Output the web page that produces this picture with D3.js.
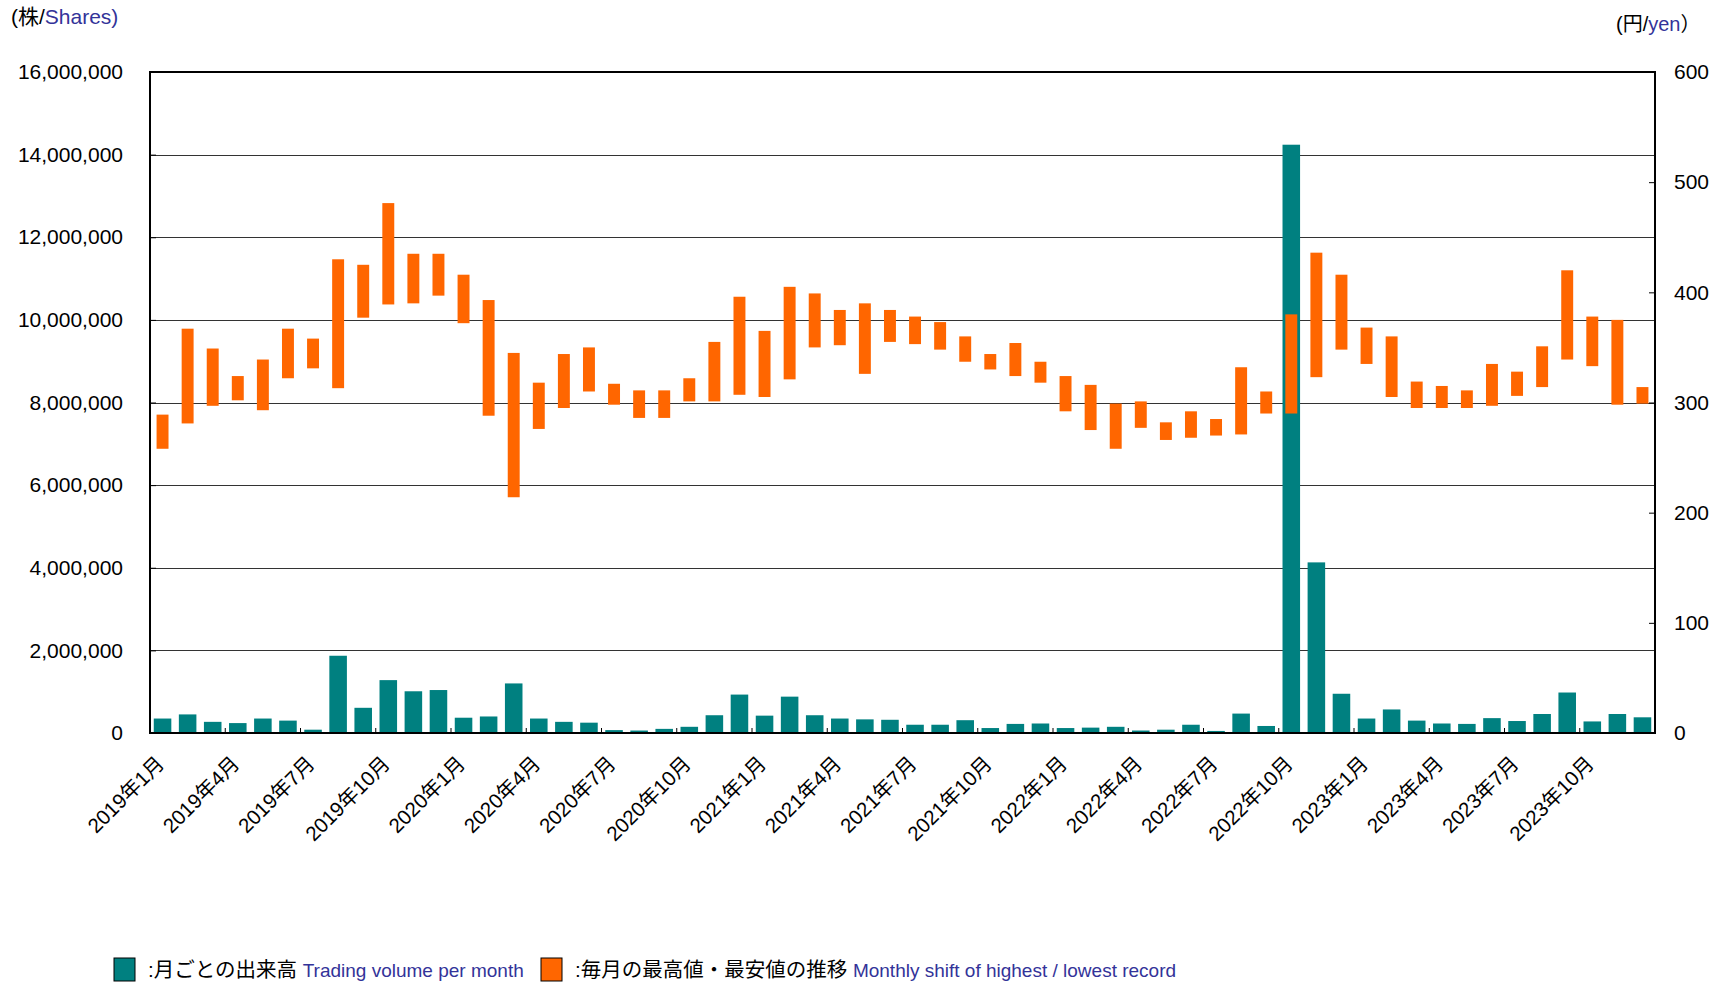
<!DOCTYPE html>
<html>
<head>
<meta charset="utf-8">
<script src="https://cdn.jsdelivr.net/npm/d3@7"></script>
<style>
  body { margin: 0; background: #fff; }
  svg { display: block; }
  text { font-family: "Liberation Sans", Arial, "Noto Sans CJK JP", sans-serif; }
</style>
</head>
<body>
<div id="chart"></div>
<script>
// months 2019/1 .. 2023/12
const years = [2019, 2020, 2021, 2022, 2023];
const months = [];
years.forEach(y => { for (let m = 1; m <= 12; m++) months.push(`${y}年${m}月`); });

// tick labels every 3 months
const tickLabels = ['2019年1月','2019年4月','2019年7月','2019年10月','2020年1月','2020年4月','2020年7月','2020年10月',
  '2021年1月','2021年4月','2021年7月','2021年10月','2022年1月','2022年4月','2022年7月','2022年10月',
  '2023年1月','2023年4月','2023年7月','2023年10月'];

// trading volume (shares)
const volume = [
  350000, 450000, 270000, 240000, 350000, 300000, 80000, 1870000, 610000, 1280000, 1010000, 1040000,
  370000, 400000, 1200000, 350000, 270000, 250000, 70000, 60000, 100000, 150000, 430000, 930000,
  420000, 880000, 430000, 350000, 330000, 320000, 200000, 200000, 310000, 120000, 220000, 230000,
  120000, 130000, 150000, 60000, 80000, 200000, 50000, 470000, 170000, 14240000, 4130000, 950000,
  350000, 570000, 300000, 230000, 220000, 360000, 290000, 460000, 980000, 280000, 460000, 380000
];

// monthly high / low (yen)
const high = [
  289, 367, 349, 324, 339, 367, 358, 430, 425, 481, 435, 435,
  416, 393, 345, 318, 344, 350, 317, 311, 311, 322, 355, 396,
  365, 405, 399, 384, 390, 384, 378, 373, 360, 344, 354, 337,
  324, 316, 299, 301, 282, 292, 285, 332, 310, 380, 436, 416,
  368, 360, 319, 315, 311, 335, 328, 351, 420, 378, 375, 314
];
const low = [
  258, 281, 297, 302, 293, 322, 331, 313, 377, 389, 390, 397,
  372, 288, 214, 276, 295, 310, 298, 286, 286, 301, 301, 307,
  305, 321, 350, 352, 326, 355, 353, 348, 337, 330, 324, 318,
  292, 275, 258, 277, 266, 268, 270, 271, 290, 290, 323, 348,
  335, 305, 295, 295, 295, 297, 306, 314, 339, 333, 298, 299
];

const W = 1730, H = 982;
const pLeft = 150, pRight = 1655, pTop = 72, pBottom = 733;
const teal = '#008080', orange = '#FF6600', blue = '#333399';

const svg = d3.select('#chart').append('svg')
  .attr('width', W).attr('height', H);

const x = d3.scaleBand()
  .domain(months)
  .range([pLeft, pRight])
  .paddingInner(0.3)
  .paddingOuter(0.15);

const yVol = d3.scaleLinear().domain([0, 16000000]).range([pBottom, pTop]);
const yPrice = d3.scaleLinear().domain([0, 600]).range([pBottom, pTop]);

// grid lines
svg.append('g')
  .selectAll('line')
  .data(d3.range(2000000, 16000000, 2000000))
  .enter().append('line')
    .attr('x1', pLeft).attr('x2', pRight)
    .attr('y1', d => Math.round(yVol(d)) + 0.5)
    .attr('y2', d => Math.round(yVol(d)) + 0.5)
    .attr('stroke', '#333')
    .attr('stroke-width', 1);

// volume bars
svg.append('g')
  .selectAll('rect')
  .data(volume)
  .enter().append('rect')
    .attr('x', (d, i) => x(months[i]))
    .attr('y', d => yVol(d))
    .attr('width', x.bandwidth())
    .attr('height', d => pBottom - yVol(d))
    .attr('fill', teal);

// high / low bars
const ow = x.bandwidth() * 0.68;
svg.append('g')
  .selectAll('rect')
  .data(high)
  .enter().append('rect')
    .attr('x', (d, i) => x(months[i]) + (x.bandwidth() - ow) / 2)
    .attr('y', d => yPrice(d))
    .attr('width', ow)
    .attr('height', (d, i) => yPrice(low[i]) - yPrice(d))
    .attr('fill', orange);

// left axis
const axL = svg.append('g')
  .attr('transform', `translate(${pLeft},0)`)
  .call(d3.axisLeft(yVol)
    .tickValues(d3.range(0, 16000001, 2000000))
    .tickFormat(d3.format(','))
    .tickSizeInner(-6)
    .tickSizeOuter(0)
    .tickPadding(27));
axL.select('.domain').remove();
axL.selectAll('line').attr('stroke', '#000');
axL.selectAll('text')
  .attr('font-family', '"Liberation Sans", Arial, sans-serif')
  .attr('font-size', 21)
  .attr('fill', '#000');

// right axis
const axR = svg.append('g')
  .attr('transform', `translate(${pRight},0)`)
  .call(d3.axisRight(yPrice)
    .tickValues(d3.range(0, 601, 100))
    .tickSizeInner(-6)
    .tickSizeOuter(0)
    .tickPadding(19));
axR.select('.domain').remove();
axR.selectAll('line').attr('stroke', '#000');
axR.selectAll('text')
  .attr('font-family', '"Liberation Sans", Arial, sans-serif')
  .attr('font-size', 21)
  .attr('fill', '#000');

// bottom ticks every 3 months (band boundaries)
const step = x.step();
svg.append('g')
  .selectAll('line')
  .data(months.filter((m, i) => i % 3 === 0 && i > 0))
  .enter().append('line')
    .attr('x1', d => x(d) - step * 0.15)
    .attr('x2', d => x(d) - step * 0.15)
    .attr('y1', pBottom).attr('y2', pBottom - 5)
    .attr('stroke', '#000');

// x labels
svg.append('g')
  .selectAll('text')
  .data(tickLabels)
  .enter().append('text')
    .attr('transform', d => `translate(${x(d) + x.bandwidth() / 2 + 3},${pBottom + 32}) rotate(-45)`)
    .attr('text-anchor', 'end')
    .attr('font-size', 20.5)
    .attr('fill', '#000')
    .text(d => d);

// plot frame
svg.append('rect')
  .attr('x', pLeft).attr('y', pTop)
  .attr('width', pRight - pLeft).attr('height', pBottom - pTop)
  .attr('fill', 'none')
  .attr('stroke', '#000')
  .attr('stroke-width', 2);

// unit labels
const uL = svg.append('text').attr('x', 11).attr('y', 24).attr('font-size', 21);
uL.append('tspan').attr('fill', '#000').text('(株/');
uL.append('tspan').attr('fill', blue).text('Shares)');

const uR = svg.append('text').attr('x', 1616).attr('y', 31).attr('font-size', 20);
uR.append('tspan').attr('fill', '#000').text('(円/');
uR.append('tspan').attr('fill', blue).text('yen');
uR.append('tspan').attr('fill', '#000').text('）');

// legend
const legend = [
  { color: teal, jp: ':月ごとの出来高', en: 'Trading volume per month', x: 114 },
  { color: orange, jp: ':毎月の最高値・最安値の推移', en: 'Monthly shift of highest / lowest record', x: 541 }
];
legend.forEach(l => {
  svg.append('rect')
    .attr('x', l.x).attr('y', 958)
    .attr('width', 21).attr('height', 23)
    .attr('fill', l.color)
    .attr('stroke', '#000')
    .attr('stroke-width', 1);
  const t = svg.append('text').attr('x', l.x + 34).attr('y', 977);
  t.append('tspan').attr('font-size', 20.5).attr('fill', '#000').text(l.jp + ' ');
  t.append('tspan').attr('font-size', 19).attr('fill', blue).text(l.en);
});
</script>
</body>
</html>
